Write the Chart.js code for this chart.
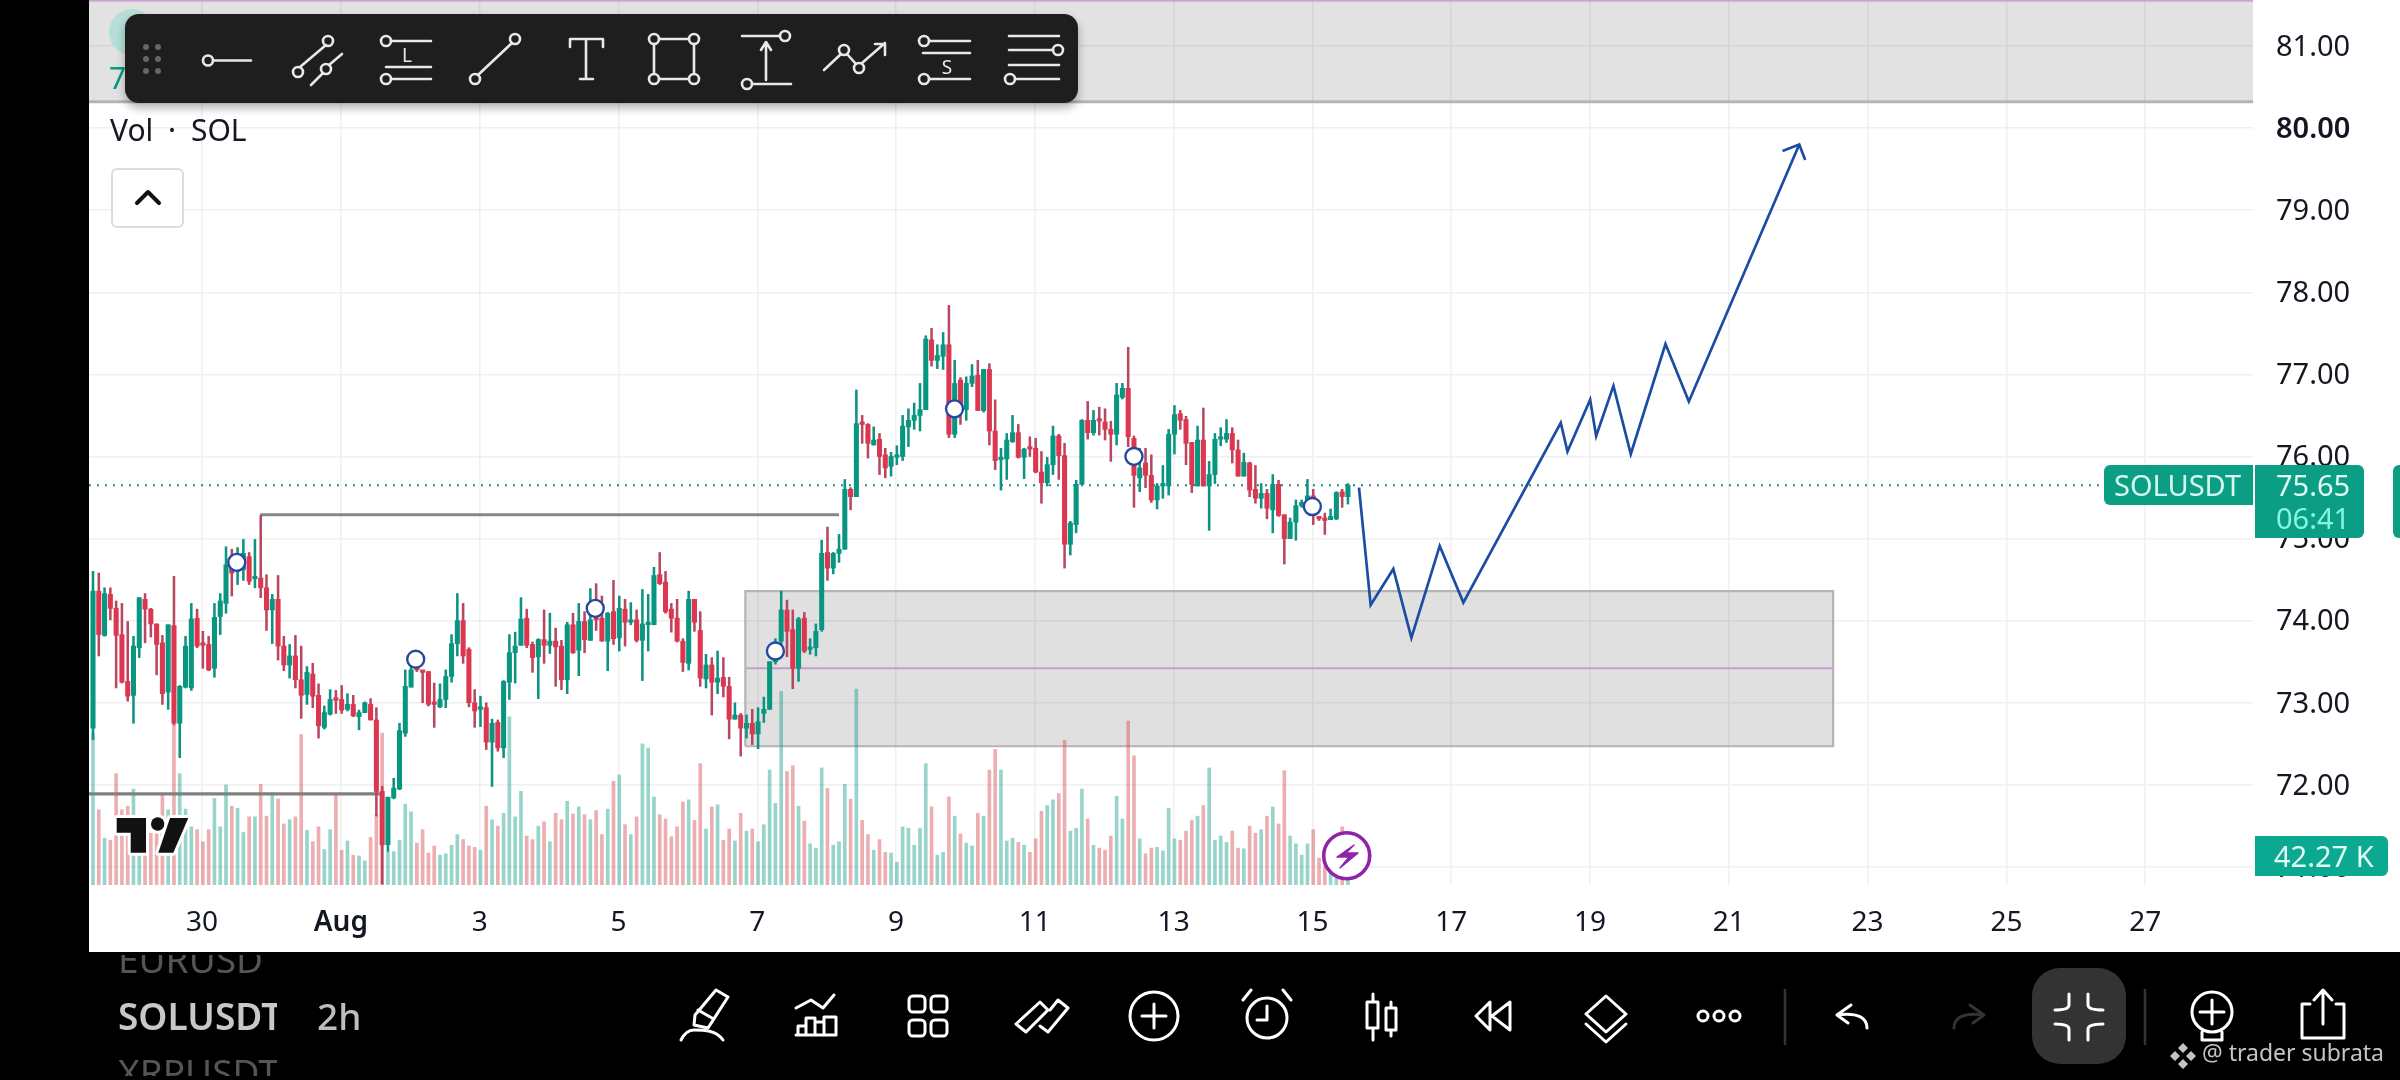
<!DOCTYPE html>
<html><head><meta charset="utf-8">
<style>
html,body{margin:0;padding:0;background:#000;width:2400px;height:1080px;overflow:hidden;font-family:"Noto Sans",sans-serif}
#paper{position:absolute;left:89px;top:0;width:2311px;height:952px;background:#fff}
canvas{position:absolute;left:0;top:0}
.t{position:absolute;white-space:nowrap;line-height:1}
.box{position:absolute;box-sizing:border-box}
svg.o{position:absolute;left:0;top:0;pointer-events:none}
</style>
<script src="https://cdn.jsdelivr.net/npm/chart.js@4"></script>
</head><body>
<div id="paper"></div>
<canvas id="c" width="2400" height="1080" style="width:2400px;height:1080px"></canvas>

<div class="t" style="left:109px;top:63px;font-size:30px;color:#089981">7</div>
<div class="box" style="left:109px;top:9px;width:46px;height:46px;border-radius:50%;background:#b5dfd8"></div>
<div class="box" style="left:125px;top:14px;width:953px;height:89px;border-radius:14px;background:#1e1e1e;box-shadow:0 5px 10px rgba(0,0,0,.3)"></div>
<div class="t" style="left:110px;top:115px;font-size:30px;word-spacing:7px;color:#131722">Vol · SOL</div>
<div class="box" style="left:111px;top:168px;width:73px;height:60px;border:2px solid #dcdcdc;border-radius:6px;background:#fff"></div>

<div class="box" style="left:2104px;top:465px;width:149px;height:40px;background:#0b9e84;border-radius:6px 0 0 6px"></div>
<div class="t" style="left:2114px;top:470px;font-size:29px;color:#d5f7ee">SOLUSDT</div>
<div class="box" style="left:2255px;top:465px;width:109px;height:73px;background:#0b9e84;border-radius:0 6px 6px 0"></div>
<div class="t" style="left:2276px;top:470px;font-size:29px;color:#e2fbf5">75.65</div>
<div class="t" style="left:2276px;top:503px;font-size:29px;color:#85f5e0">06:41</div>
<div class="box" style="left:2393px;top:465px;width:7px;height:73px;background:#0b9e84;border-radius:6px 0 0 6px"></div>
<div class="box" style="left:2255px;top:836px;width:133px;height:40px;background:#0ba892;border-radius:0 6px 6px 0"></div>
<div class="t" style="left:2274px;top:841px;font-size:29px;color:#e2fbf5">42.27 K</div>

<div style="position:absolute;left:118px;top:955px;width:160px;height:18px;overflow:hidden"><div class="t" style="left:0;top:-15px;font-size:37px;color:#555">EURUSD</div></div>
<div style="position:absolute;left:118px;top:990px;width:159px;height:50px;overflow:hidden"><div class="t" style="left:0;top:7px;font-size:37px;font-weight:600;color:#c8c8c8">SOLUSDT</div></div>
<div class="t" style="left:317px;top:997px;font-size:37px;font-weight:500;color:#bdbdbd">2h</div>
<div style="position:absolute;left:118px;top:1058px;width:159px;height:18px;overflow:hidden"><div class="t" style="left:0;top:-5px;font-size:37px;color:#555">XRPUSDT</div></div>
<div class="box" style="left:2032px;top:968px;width:94px;height:96px;border-radius:28px;background:#333"></div>
<div class="t" style="left:2202px;top:1041px;font-size:23px;color:#c4c4c4">@ trader subrata</div>

<svg class="o" width="2400" height="1080" fill="none" stroke="#e8e8e8" stroke-width="2.6" stroke-linecap="round" stroke-linejoin="round">
 <!-- drawing toolbar -->
 <g fill="#666" stroke="none"><circle cx="146" cy="47" r="3"/><circle cx="158" cy="47" r="3"/><circle cx="146" cy="59" r="3"/><circle cx="158" cy="59" r="3"/><circle cx="146" cy="71" r="3"/><circle cx="158" cy="71" r="3"/></g>
 <path d="M213 60.5H251"/><circle cx="208" cy="60.5" r="5"/>
 <path d="M300 67L326 45M311 85L323 73M329 65L342 54"/><circle cx="298" cy="72" r="5"/><circle cx="328" cy="41" r="5"/><circle cx="326" cy="69" r="5"/>
 <path d="M391 41H431M386 67H431M391 79H431"/><circle cx="386" cy="41" r="5"/><circle cx="386" cy="79" r="5"/>
 <text x="407" y="62" font-size="19" fill="#e8e8e8" stroke="none" text-anchor="middle" font-family="Noto Sans">L</text>
 <path d="M478 75L512 43"/><circle cx="475" cy="79" r="5"/><circle cx="515" cy="39" r="5"/>
 <path d="M570 47V39H603V47M586 39V79M580 79H593"/>
 <path d="M659 39H689M659 79H689M654 44V74M694 44V74"/><circle cx="654" cy="39" r="5"/><circle cx="694" cy="39" r="5"/><circle cx="654" cy="79" r="5"/><circle cx="694" cy="79" r="5"/>
 <path d="M742 36H780M752 84H791M766 80V44M761 50L766 42L771 50"/><circle cx="785" cy="36" r="5"/><circle cx="747" cy="84" r="5"/>
 <path d="M824 70L841 54M847 54L856 64M862 63L885 43M875 44H885V55"/><circle cx="844" cy="50" r="5"/><circle cx="859" cy="68" r="5"/>
 <path d="M929 41H970M923 53H970M929 79H970"/><circle cx="924" cy="41" r="5"/><circle cx="924" cy="79" r="5"/>
 <text x="947" y="74" font-size="19" fill="#e8e8e8" stroke="none" text-anchor="middle" font-family="Noto Sans">S</text>
 <path d="M1009 36H1059M1009 50H1053M1009 65H1059M1015 79H1059"/><circle cx="1058" cy="50" r="5"/><circle cx="1010" cy="79" r="5"/>
 <path stroke="#111" stroke-width="4" d="M137 203L148 192L159 203"/>

 <!-- bottom toolbar -->
 <g stroke="#fff" stroke-width="3">
  <path d="M716 990L728 997L708 1028L694 1025L695 1015ZM698 1010L712 1018"/><path d="M681 1040C684 1034 688 1030 694 1030C704 1030 716 1030 723 1040"/>
  <path d="M796 1008L811 1000L823 1008L834 995"/><path d="M798 1035V1026H806V1035M806 1035V1018H815V1035M815 1035V1022H824V1035M824 1035V1017H836V1035H796"/>
  <rect x="909" y="996" width="16" height="16" rx="4"/><rect x="931" y="996" width="16" height="16" rx="4"/><rect x="909" y="1020" width="16" height="16" rx="4"/><rect x="931" y="1020" width="16" height="16" rx="4"/>
  <path d="M1016 1024L1040 1002L1048 1010L1026 1032ZM1040 1026L1048 1032L1068 1008L1058 1000L1050 1010"/>
  <circle cx="1154" cy="1016" r="24"/><path d="M1154 1004V1028M1142 1016H1166"/>
  <circle cx="1267" cy="1018" r="20"/><path d="M1267 1006V1020H1257M1243 1000L1251 990M1291 1000L1283 990"/>
  <path d="M1373 994V1040M1391 1002V1036"/><rect x="1367" y="1002" width="11" height="26" fill="#000"/><rect x="1386" y="1008" width="10" height="22" fill="#000"/>
  <path d="M1490 1002L1476 1016L1490 1030ZM1510 1002L1492 1016L1510 1030Z"/>
  <path d="M1606 996L1626 1014L1606 1032L1586 1014Z"/><path d="M1586 1024L1606 1042L1626 1024"/>
  <circle cx="1703" cy="1016" r="5"/><circle cx="1719" cy="1016" r="5"/><circle cx="1735" cy="1016" r="5"/>
  <path d="M1851 1005L1837 1015L1848 1023M1837 1015C1858 1012 1867 1018 1867 1028"/>
  <path stroke="#333" d="M1970 1005L1984 1015L1973 1023M1984 1015C1963 1012 1954 1018 1954 1028"/>
  <path d="M2069 994V1005Q2069 1010 2055 1010M2088 994V1005Q2088 1010 2103 1010M2069 1040V1029Q2069 1024 2055 1024M2088 1040V1029Q2088 1024 2103 1024"/>
  <circle cx="2212" cy="1012" r="20"/><path d="M2212 1000V1024M2200 1012H2224M2202 1032V1040H2222V1032"/>
  <path d="M2310 1004H2302V1038H2344V1004H2336M2323 1024V992M2314 1000L2323 990L2332 1000"/>
 </g>
 <path stroke="#333" d="M1785 990V1044M2145 990V1044"/>
 <g fill="#c4c4c4" stroke="none"><path d="M2183 1043L2188 1048L2183 1053L2178 1048ZM2183 1059L2188 1064L2183 1069L2178 1064ZM2175 1051L2180 1056L2175 1061L2170 1056ZM2191 1051L2196 1056L2191 1061L2186 1056Z"/></g>

 <!-- TradingView mark -->
 <g fill="#111" stroke="#fff" stroke-width="6" paint-order="stroke">
  <path d="M116.7 818H146V852.7H130.7V832.7H116.7Z"/><circle cx="157.7" cy="824" r="6.7"/><path d="M170 818H188.3L173.3 852.7H158.3Z"/>
 </g>
 <!-- lightning badge -->
 <circle cx="1346.7" cy="855.7" r="23" fill="#fff" stroke="#8e24aa" stroke-width="3.6"/>
 <path d="M1354 845L1337 857H1349L1340 868L1358 853H1346Z" fill="#8e24aa" stroke="#8e24aa" stroke-width="1.4"/>
</svg>

<script>
const tickLabels = ["30","Aug","3","5","7","9","11","13","15","17","19","21","23","25","27"];
const tickBars = [18.86,42.86,66.86,90.86,114.86,138.86,162.86,186.86,210.86,234.86,258.86,282.86,306.86,330.86,354.86];
const priceTicks = [71,72,73,74,75,76,77,78,79,80,81];

const opens = [72.69,74.36,73.82,74.32,74.15,73.83,73.26,73.09,73.67,74.26,74.14,73.96,73.73,73.13,73.94,72.75,73.19,73.18,74.03,73.72,73.71,73.42,74.05,74.21,74.70,74.60,74.62,74.78,74.51,74.52,74.40,74.13,74.26,73.69,73.46,73.57,73.28,73.10,73.35,73.09,72.70,72.86,73.05,73.04,72.92,72.98,72.83,72.88,72.98,72.79,71.92,71.27,71.84,71.95,72.63,73.19,73.49,73.38,73.38,73.00,72.95,73.04,73.32,73.72,74.00,73.65,73.00,72.92,72.94,72.52,72.76,72.45,73.25,73.61,73.70,74.03,73.71,73.56,73.77,73.70,73.75,73.69,73.28,73.95,73.64,73.99,73.76,74.25,74.03,73.75,74.11,73.79,74.14,73.98,74.01,73.76,73.95,73.95,74.56,74.47,74.14,74.03,73.75,73.48,74.26,73.88,73.29,73.46,73.25,73.31,73.20,72.80,72.85,72.69,72.75,72.62,72.87,72.92,73.50,73.75,74.13,73.89,73.42,74.03,73.65,73.67,73.89,74.83,74.64,74.82,74.87,75.60,75.51,76.41,76.39,76.14,76.21,76.02,75.88,75.99,76.00,76.36,76.44,76.50,76.57,77.42,77.17,77.22,77.36,76.27,76.93,76.57,76.89,76.99,76.56,77.06,76.31,75.96,75.97,76.18,76.29,75.99,76.11,76.10,75.81,75.68,75.90,76.25,76.01,74.93,75.17,75.66,76.44,76.29,76.45,76.42,76.33,76.27,76.72,76.83,76.22,75.74,75.92,75.77,75.47,75.64,75.64,76.27,76.52,76.45,76.17,75.64,76.20,75.64,75.78,76.21,76.21,76.28,76.08,75.76,75.92,75.60,75.49,75.55,75.35,75.66,75.29,75.00,75.20,75.40,75.44,75.52,75.26,75.25,75.23,75.24,75.57,75.51];
const highs = [74.60,74.58,74.40,74.40,74.24,74.21,73.99,73.81,74.28,74.33,74.15,73.96,73.82,73.95,74.54,73.21,73.81,74.21,74.14,73.87,73.81,74.21,74.33,74.90,74.87,74.89,74.99,74.83,74.99,75.28,74.56,74.32,74.55,73.81,73.71,73.82,73.69,73.44,73.48,73.23,72.96,73.16,73.15,73.21,73.11,73.09,72.91,73.01,73.05,72.94,71.98,71.85,72.08,72.75,73.40,73.55,73.58,73.39,73.38,73.24,73.23,73.40,73.83,74.33,74.21,73.67,73.16,73.08,73.00,72.80,72.79,73.27,73.83,73.86,74.28,74.14,73.74,73.78,74.13,74.09,73.91,73.76,73.98,74.09,74.21,74.11,74.39,74.45,74.30,74.10,74.49,74.30,74.26,74.22,74.13,74.38,74.32,74.65,74.83,74.60,74.21,74.26,73.78,74.36,74.26,74.11,73.59,73.55,73.63,73.55,73.31,73.00,72.87,72.85,72.92,72.94,73.07,73.50,73.78,74.36,74.25,74.13,74.04,74.10,73.78,73.96,74.98,75.14,74.83,75.05,75.72,75.62,76.81,76.50,76.40,76.36,76.28,76.10,76.05,76.13,76.50,76.58,76.65,76.89,77.47,77.56,77.36,77.51,77.84,77.17,76.96,76.97,77.12,77.17,77.06,77.13,76.69,76.10,76.28,76.50,76.39,76.10,76.24,76.22,76.06,75.99,76.37,76.27,76.16,75.21,75.71,76.45,76.67,76.56,76.60,76.58,76.43,76.89,76.89,77.33,76.25,76.10,76.10,76.02,75.67,75.89,76.33,76.62,76.56,76.49,76.17,76.37,76.59,75.94,76.28,76.35,76.45,76.35,76.20,76.04,75.93,75.89,75.67,75.60,75.78,75.71,75.29,75.25,75.47,75.47,75.72,75.60,75.27,75.31,75.36,75.57,75.60,75.67];
const lows = [72.55,73.57,73.81,74.01,73.18,73.24,73.02,72.75,73.55,73.73,73.80,73.34,72.98,72.92,72.73,72.33,73.18,73.15,73.67,73.42,73.39,73.31,73.83,74.09,74.30,74.44,74.49,74.44,74.40,74.28,73.88,73.72,73.52,73.39,73.30,73.18,72.81,72.98,72.94,72.57,72.68,72.85,72.87,72.87,72.90,72.83,72.67,72.88,72.79,71.62,70.79,71.19,71.83,71.94,72.59,73.19,73.38,73.00,72.96,72.70,72.94,72.94,73.25,73.57,73.48,72.95,72.70,72.71,72.43,71.98,72.41,72.33,73.04,73.24,73.70,73.67,73.37,73.05,73.48,73.60,73.20,73.16,73.11,73.60,73.33,73.61,73.76,73.88,73.75,73.39,73.71,73.63,73.69,73.95,73.74,73.27,73.63,73.95,74.44,74.09,73.86,73.74,73.38,73.40,73.87,73.20,73.18,72.85,73.11,73.07,72.56,72.80,72.35,72.57,72.49,72.44,72.76,72.92,73.47,73.70,73.56,73.17,73.26,73.61,73.59,73.57,73.87,74.49,74.57,74.71,74.87,75.35,75.51,76.16,75.98,76.14,75.78,75.74,75.76,75.90,75.95,76.12,76.33,76.31,76.57,77.10,77.07,77.06,76.23,76.23,76.39,76.44,76.85,76.56,76.54,76.14,75.84,75.59,75.72,76.17,75.98,75.73,76.00,75.80,75.43,75.64,75.78,75.72,74.64,74.80,75.07,75.66,76.21,76.26,76.26,76.20,75.94,76.14,76.70,76.12,75.38,75.57,75.62,75.44,75.36,75.49,75.53,76.03,76.33,75.90,75.56,75.64,75.64,75.10,75.67,76.13,76.17,75.92,75.76,75.76,75.51,75.43,75.37,75.24,75.07,75.27,74.69,75.00,74.98,75.38,75.40,75.17,75.22,75.05,75.23,75.23,75.38,75.42];
const closes = [74.36,73.83,74.33,74.15,73.82,73.25,73.08,73.69,74.28,74.14,73.96,73.71,73.11,73.95,72.75,73.20,73.69,74.02,73.69,73.70,73.40,74.04,74.24,74.68,74.58,74.80,74.82,74.48,74.52,74.40,74.13,74.26,73.69,73.46,73.57,73.28,73.09,73.37,73.08,72.72,72.88,73.04,73.03,72.91,72.98,72.84,72.88,73.00,72.79,71.92,71.27,71.85,71.96,72.66,73.20,73.40,73.40,73.37,72.98,72.98,73.04,73.32,73.72,74.00,73.57,73.00,72.90,72.94,72.52,72.75,72.45,73.26,73.61,73.69,74.02,73.70,73.55,73.77,73.70,73.75,73.68,73.28,73.95,73.61,73.99,73.77,74.01,74.01,73.75,74.09,73.78,74.15,73.98,74.01,73.76,73.96,73.98,74.55,74.45,74.11,74.03,73.75,73.49,74.26,73.98,73.30,73.46,73.25,73.30,73.20,72.80,72.85,72.69,72.75,72.62,72.77,72.92,73.50,73.74,74.13,73.87,73.42,74.02,73.63,73.67,73.87,74.82,74.64,74.82,74.87,75.60,75.51,76.40,76.39,76.16,76.20,76.00,75.86,76.00,76.01,76.37,76.44,76.50,76.57,77.43,77.17,77.23,77.36,76.27,76.89,76.60,76.89,76.98,76.56,77.06,76.31,75.95,75.99,76.20,76.29,75.99,76.09,76.09,75.81,75.68,75.90,76.25,76.01,74.93,75.19,75.66,76.44,76.29,76.44,76.43,76.33,76.27,76.75,76.83,76.24,75.77,75.86,75.77,75.47,75.64,75.67,76.27,76.51,76.44,76.16,75.66,76.20,75.64,75.78,76.21,76.24,76.28,76.08,75.76,75.93,75.59,75.49,75.55,75.37,75.66,75.28,75.00,75.20,75.40,75.44,75.52,75.34,75.24,75.22,75.27,75.56,75.51,75.65];
const volumes = [214,106,66,63,157,106,111,135,92,92,73,82,127,106,226,157,107,82,78,61,78,122,82,141,111,108,74,96,96,142,97,130,121,86,92,96,212,77,61,82,50,78,129,49,62,42,41,34,67,99,214,47,47,63,114,103,59,78,45,55,42,44,56,71,64,55,53,49,111,92,83,101,237,96,132,69,64,83,89,61,101,92,118,100,110,99,92,105,71,107,146,155,85,71,96,199,193,124,99,93,68,82,117,120,91,171,79,110,113,63,79,62,101,76,79,61,85,162,115,273,160,168,111,90,58,52,165,136,56,61,142,121,276,91,71,49,64,46,45,32,82,80,56,80,171,110,42,46,124,97,72,59,55,101,97,162,191,162,62,66,60,56,46,65,104,112,120,129,204,76,80,135,93,56,52,49,69,125,93,231,182,65,44,52,53,48,108,65,63,76,91,97,112,165,63,69,60,76,52,51,83,73,78,97,110,86,161,69,58,42,58,78,38,26,21,14,82,42.27];

const lastPrice = 75.65;
const forecast = [[218.91,75.62],[220.93,74.19],[224.85,74.63],[227.97,73.79],[232.87,74.91],[236.96,74.22],[253.8,76.41],[254.96,76.06],[258.88,76.69],[259.92,76.25],[262.91,76.86],[265.91,76.03],[271.91,77.37],[275.95,76.67],[295.04,79.80]];
const arrowHead = [[292.15,79.72],[295.04,79.80],[296.07,79.61]];
const signals = [[24.86,74.71],[55.8,73.53],[86.85,74.15],[118,73.63],[148.97,76.58],[180,76.0],[210.85,75.39]];
const levelHigh = [[28.9,75.29],[129,75.29]];
const levelLow = [[-0.7,71.89],[49.6,71.89]];
const zone = {left:112.8,right:300.9,top:74.36,mid:73.42,bottom:72.47};
const upperZone = {top:81.55,bottom:80.32};
const xRange = [-0.692,373.5];
const yRange = [70.78,81.56];
const volMax = 1247;

const pts = a => a.map(p => ({x:p[0],y:p[1]}));
const GREEN='#089681', RED='#dc3650', GREENW='#0d9384', REDW='#b84860';
const isUp = i => closes[i] >= opens[i];
const noPad = s => {s.paddingTop=0;s.paddingBottom=0;s.paddingLeft=0;s.paddingRight=0};

const bars = (label,data,colors,thick,axis,order,extra) => Object.assign({type:'bar',label,data,backgroundColor:colors,borderWidth:0,barThickness:thick,grouped:false,yAxisID:axis,order},extra||{});
const line = (label,data,color,width,order,extra) => Object.assign({type:'line',label,data:pts(data),borderColor:color,borderWidth:width,pointRadius:0,tension:0,fill:false,yAxisID:'y',order},extra||{});

const datasets = [
 line('upper zone',[[xRange[0],upperZone.bottom],[xRange[1],upperZone.bottom]],'#b4b4b4',3,9,{fill:{value:yRange[1]},backgroundColor:'rgba(0,0,0,0.115)'}),
 line('upper mid',[[xRange[0],upperZone.top],[xRange[1],upperZone.top]],'#cda4d4',2,8),
 line('zone fill',[[zone.left,zone.top],[zone.right,zone.top]],'rgba(0,0,0,0)',0,9,{fill:{value:zone.bottom},backgroundColor:'rgba(0,0,0,0.12)'}),
 line('zone edge',[[zone.left,zone.bottom],[zone.left,zone.top],[zone.right,zone.top],[zone.right,zone.bottom],[zone.left,zone.bottom]],'#b4b4b4',2.2,8),
 line('zone mid',[[zone.left,zone.mid],[zone.right,zone.mid]],'#c79bd0',2,8),
 bars('volume',volumes.map((v,i)=>({x:i,y:v})),volumes.map((v,i)=>isUp(i)?'rgba(8,153,129,0.42)':'rgba(214,70,80,0.44)'),3,'v',7),
 line('level high',levelHigh,'#868686',3.2,6),
 line('level low',levelLow,'#808080',3.2,6),
 line('last price',[[xRange[0],lastPrice],[347.7,lastPrice]],'#0d8f7c',2,5,{borderDash:[2,6]}),
 bars('wick',lows.map((l,i)=>({x:i,y:[l,highs[i]]})),lows.map((l,i)=>isUp(i)?GREENW:REDW),1.9,'y',4),
 bars('body',opens.map((o,i)=>({x:i,y:[o,closes[i]]})),opens.map((o,i)=>isUp(i)?GREEN:RED),4.4,'y',3,{minBarLength:2.5}),
 line('forecast',forecast,'#1c4da3',2.7,2),
 line('arrow',arrowHead,'#1c4da3',2.7,2),
 {type:'line',label:'signals',data:pts(signals),showLine:false,pointStyle:'circle',pointRadius:8.5,pointBorderWidth:2.4,pointBackgroundColor:'#fff',pointBorderColor:'#2748a0',yAxisID:'y',order:1}
];

new Chart(document.getElementById('c'),{
 type:'bar',
 data:{datasets},
 options:{
  responsive:false,animation:false,devicePixelRatio:1,
  layout:{autoPadding:false,padding:{left:89,right:0,top:0,bottom:0}},
  plugins:{legend:{display:false},tooltip:{enabled:false}},
  events:[],
  scales:{
   x:{type:'linear',position:'bottom',min:xRange[0],max:xRange[1],offset:false,
      afterFit(s){s.height=195;noPad(s)},
      afterBuildTicks(s){s.ticks=tickBars.map(v=>({value:v}))},
      grid:{color:'#f0f0f2',lineWidth:1.5,drawTicks:false,offset:false},border:{display:false},
      ticks:{autoSkip:false,maxRotation:0,minRotation:0,padding:21,color:'#131722',
        font:c=>({family:'Noto Sans',size:28,weight:tickLabels[c.index]==='Aug'?600:400}),
        callback:(v,i)=>tickLabels[i]}},
   y:{type:'linear',position:'right',min:yRange[0],max:yRange[1],
      afterFit(s){s.width=147;noPad(s)},
      afterBuildTicks(s){s.ticks=priceTicks.map(v=>({value:v}))},
      grid:{color:'#f0f0f2',lineWidth:1.5,drawTicks:false},border:{display:false},
      ticks:{autoSkip:false,padding:23,labelOffset:1.5,color:'#131722',
        font:c=>({family:'Noto Sans',size:29,weight:c.tick&&c.tick.value===80?600:400}),
        callback:v=>v.toFixed(2)}},
   v:{type:'linear',display:false,min:0,max:volMax}
  }
 }
});
</script>
</body></html>
